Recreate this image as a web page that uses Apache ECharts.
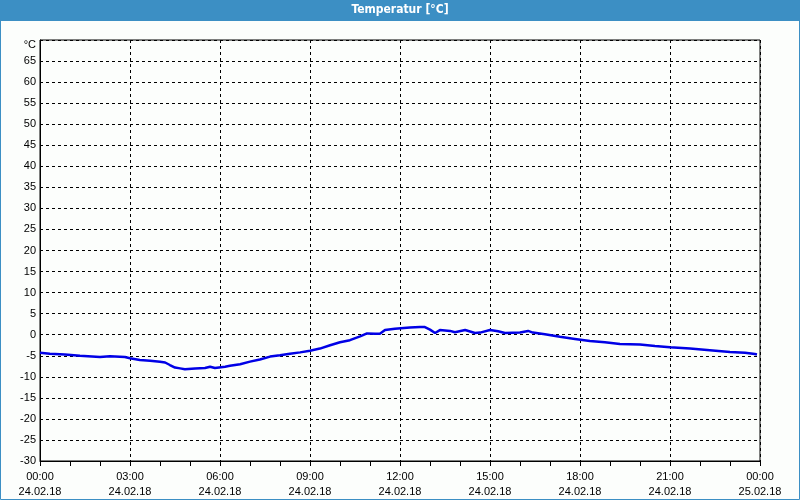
<!DOCTYPE html>
<html><head><meta charset="utf-8">
<script src="https://cdn.jsdelivr.net/npm/echarts@6/dist/echarts.min.js"></script>
<style>html,body{margin:0;padding:0;background:#fcfefc}#c{width:800px;height:500px}</style>
</head><body><div id="c"></div>
<script>
// time in hours since 24.02.18 00:00
const hours = [0,0.33,0.83,1.33,2,2.33,2.83,3,3.33,3.67,4,4.17,4.33,4.5,4.67,4.83,5.17,5.5,5.67,5.83,6.17,6.33,6.67,7,7.33,7.67,8,8.33,8.67,9,9.33,9.67,10,10.33,10.67,10.9,11.17,11.33,11.5,11.83,12.33,12.67,12.83,13,13.17,13.33,13.67,13.83,14.17,14.5,14.67,15,15.27,15.5,16,16.27,16.43,16.83,17.33,17.83,18.33,18.83,19.33,20,20.5,21,21.67,22.33,23,23.5,23.83,23.9];
const temps = [-4.3,-4.5,-4.7,-5.0,-5.3,-5.1,-5.3,-5.6,-6.0,-6.2,-6.4,-6.6,-7.2,-7.8,-8.0,-8.2,-8.0,-7.9,-7.6,-7.9,-7.6,-7.4,-7.0,-6.4,-5.9,-5.2,-4.9,-4.5,-4.2,-3.8,-3.3,-2.5,-1.8,-1.3,-0.4,0.3,0.2,0.2,1.1,1.4,1.7,1.8,1.8,1.2,0.4,1.1,0.9,0.6,1.1,0.4,0.5,1.1,0.8,0.4,0.5,0.9,0.5,0.1,-0.5,-1.0,-1.5,-1.8,-2.2,-2.3,-2.7,-3.0,-3.3,-3.7,-4.1,-4.3,-4.6,-4.7];
const xTickLabels = ['00:00\n24.02.18','03:00\n24.02.18','06:00\n24.02.18','09:00\n24.02.18','12:00\n24.02.18','15:00\n24.02.18','18:00\n24.02.18','21:00\n24.02.18','00:00\n25.02.18'];
const yUnitLabel = '°C';
const titleText = 'Temperatur [°C]';

const chart = echarts.init(document.getElementById('c'), null, {renderer:'canvas'});
const font = 'Liberation Sans';
chart.setOption({
  backgroundColor:'#fcfefc',
  animation:false,
  graphic:[
    {type:'rect', shape:{x:0,y:0,width:800,height:21}, style:{fill:'#3c8fc4'}, z:10},
    {type:'rect', shape:{x:0.5,y:0.5,width:799,height:499}, style:{fill:'none',stroke:'#3c8fc4',lineWidth:1}, z:10},
    {type:'text', left:'center', top:4, style:{text:titleText, fill:'#ffffff', font:'bold 12px "DejaVu Sans Condensed", "Liberation Sans", sans-serif'}, z:11}
  ],
  grid:{left:40,right:40,top:40,bottom:39,show:true,borderColor:'#000',borderWidth:1,backgroundColor:'transparent'},
  xAxis:{
    type:'value', min:0, max:24, interval:3,
    axisLine:{show:true,onZero:false,lineStyle:{color:'#000',width:1}},
    axisTick:{show:true,length:5,lineStyle:{color:'#000'}},
    minorTick:{show:true,splitNumber:3,length:5,lineStyle:{color:'#000'}},
    splitLine:{show:true,lineStyle:{color:'#000',type:[3,3],width:1}},
    axisLabel:{color:'#000',fontFamily:font,fontSize:11,lineHeight:15,margin:8,
      formatter:(v)=>xTickLabels[Math.round(v/3)]}
  },
  yAxis:{
    type:'value', min:-30, max:70, interval:5,
    axisLine:{show:true,onZero:false,lineStyle:{color:'#000',width:1}},
    axisTick:{show:false},
    splitLine:{show:true,lineStyle:{color:'#000',type:[3,3],width:1}},
    axisLabel:{color:'#000',fontFamily:font,fontSize:11,margin:4,
      formatter:(v)=> v===70 ? '{u|'+yUnitLabel+'}' : String(v),
      rich:{u:{fontFamily:font,fontSize:11,color:'#000',padding:[10,0,0,0]}}}
  },
  series:[{
    type:'line', showSymbol:false, symbol:'none',
    data: hours.map((h,i)=>[h,temps[i]]),
    lineStyle:{color:'#0000e6',width:2.5}
  }]
});
</script></body></html>
